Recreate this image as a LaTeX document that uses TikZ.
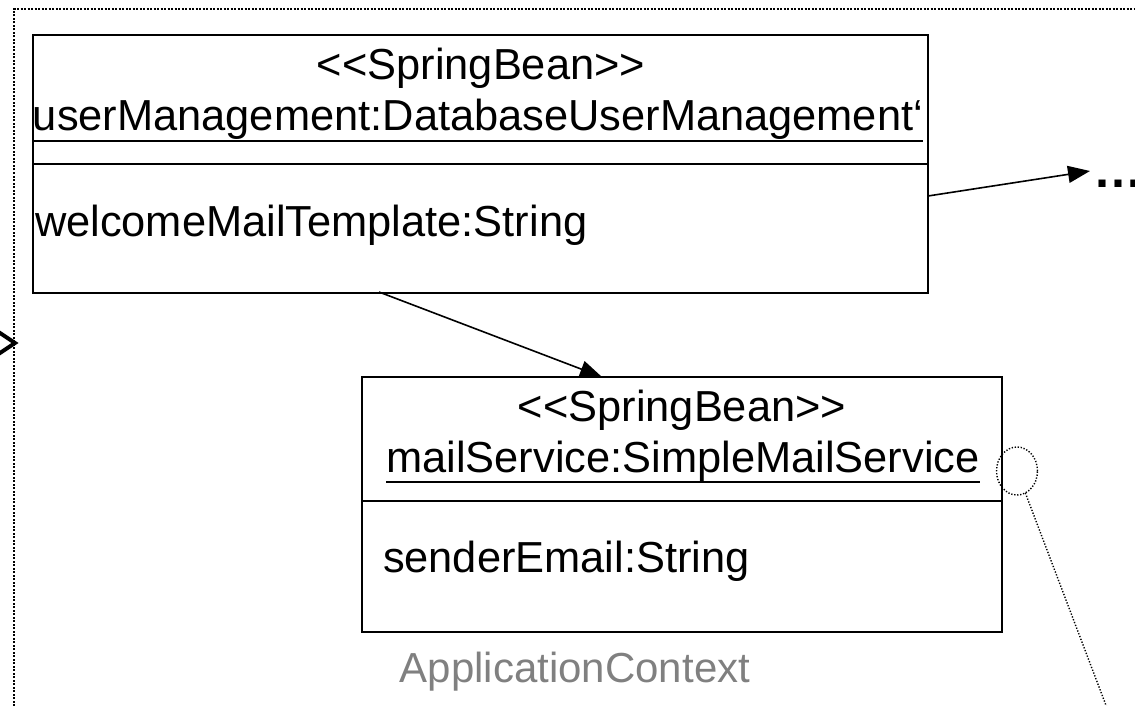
\documentclass[tikz,border=0pt]{standalone}
\usepackage{fontspec}
\setmainfont{Liberation Sans}
\usetikzlibrary{arrows.meta,shapes.geometric}
\begin{document}
\begin{tikzpicture}[x=1pt,y=-1pt,
  every node/.style={inner sep=0pt,outer sep=0pt},
  txt/.style={font=\fontsize{43.4}{50}\selectfont,anchor=base},
  txtw/.style={txt,anchor=base west},
  beanbox/.style={draw,line width=2pt,anchor=north west},
  divider/.style={line width=1.6pt},
  uline/.style={line width=2.8pt},
  link/.style={line width=1.6pt,-{Triangle[length=22pt,width=17pt]}},
  frame/.style={line width=2pt,dash pattern=on 2pt off 1.5pt},
  fine/.style={line width=1.4pt,dash pattern=on 1.3pt off 1.7pt}]
\useasboundingbox (0,0) rectangle (1135,706);

% enclosing application context frame
\coordinate (fb) at (14,706);
\coordinate (fc) at (14,9);
\coordinate (fr) at (1135,9);
\draw[frame] (fb) -- (fc) -- (fr);

% partly visible arrow tip at the left edge
\coordinate (ca) at (-3,331);
\coordinate (cb) at (15,343);
\coordinate (cc) at (-3,355);
\draw[line width=4pt,line join=miter] (ca) -- (cb) -- (cc);

% userManagement bean
\node[beanbox,minimum width=895pt,minimum height=258pt] (um) at (33,35) {};
\draw[divider] (33,164) -- (928,164);
\node[txt] (umst) at (481,80) {<{}<SpringBean>{}>};
\node[txt] (umnm) at (478,131) {userManagement:DatabaseUserManagement‘};
\draw[uline] ([yshift=-10pt]umnm.base west) -- ([yshift=-10pt]umnm.base east);
\node[txtw] (umat) at (35,236) {welcomeMailTemplate:String};

% mailService bean
\node[beanbox,minimum width=640pt,minimum height=255pt] (ms) at (362,377) {};
\draw[divider] (362,501) -- (1002,501);
\node[txt] (msst) at (682,421) {<{}<SpringBean>{}>};
\node[txt] (msnm) at (683,472) {mailService:SimpleMailService};
\draw[uline] ([yshift=-10pt]msnm.base west) -- ([yshift=-10pt]msnm.base east);
\node[txtw] (msat) at (383,572) {senderEmail:String};

% context label
\node[txt,font=\fontsize{42}{50}\selectfont,text=black!50] (ctx) at (575,682) {ApplicationContext};

% references
\coordinate (umout) at (928,196);
\coordinate (far) at (1090,171);
\draw[link] (umout) -- (far);
\node[anchor=base west,font=\bfseries\fontsize{50}{56}\selectfont] (more) at (1093,187) {…};

\coordinate (umdown) at (379,292);
\coordinate (msin) at (602,377);
\draw[link] (umdown) -- (msin);

% note attachment
\node[draw,fine,ellipse,minimum width=41pt,minimum height=48pt] (pin) at (1017,471) {};
\coordinate (pinend) at (1107,708);
\draw[fine] (pin) -- (pinend);
\end{tikzpicture}
\end{document}
